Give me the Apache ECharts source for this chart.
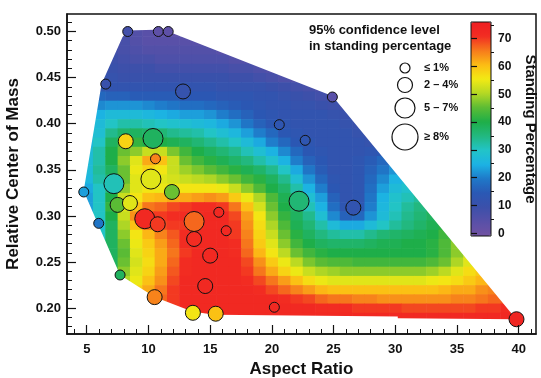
<!DOCTYPE html>
<html>
<head>
<meta charset="utf-8">
<script src="https://cdn.jsdelivr.net/npm/echarts@6/dist/echarts.min.js"></script>
<style>
  html, body { margin: 0; padding: 0; background: #fff; }
  #chart { width: 541px; height: 378px; }
</style>
</head>
<body>
<div id="chart"></div>
<script>
const FONT = '"Liberation Sans", Arial, Helvetica, sans-serif';

// measured specimens: aspect ratio, relative centre of mass, standing %, CI class
const pointX = [8.32, 10.8, 11.6, 6.54, 12.8, 24.9, 20.6, 22.7, 8.16, 10.37, 10.57, 10.2, 7.2, 11.9, 4.76, 7.5, 8.5,
  5.97, 9.7, 10.75, 13.7, 13.7, 15.7, 16.3, 15.0, 7.7, 14.6, 10.5, 13.6, 15.45, 20.2, 22.2, 26.6, 39.82];
const pointY = [0.50, 0.50, 0.50, 0.443, 0.435, 0.429, 0.399, 0.382, 0.381, 0.384, 0.362, 0.340, 0.335, 0.326, 0.326, 0.312, 0.314,
  0.292, 0.297, 0.291, 0.294, 0.275, 0.304, 0.284, 0.257, 0.236, 0.224, 0.212, 0.195, 0.194, 0.201, 0.316, 0.309, 0.188];
const pointValue = [8, 3, 3, 10, 11, 4, 13, 13, 58, 38, 65, 54, 31, 46, 23, 45, 54,
  19, 72, 70, 67, 71, 72, 72, 72, 38, 72, 65, 56, 60, 72, 36, 12, 73];
const pointCI = [0, 0, 0, 0, 1, 0, 0, 0, 1, 2, 0, 2, 2, 1, 0, 1, 1,
  0, 2, 1, 2, 1, 0, 0, 1, 0, 1, 1, 1, 1, 0, 2, 1, 1];

const ciLabels = ['\u2264 1%', '2 \u2013 4%', '5 \u2013 7%', '\u2265 8%'];
const ciSizes = [10, 15, 20, 26];

const xTicks = [5, 10, 15, 20, 25, 30, 35, 40];
const yTicks = [0.20, 0.25, 0.30, 0.35, 0.40, 0.45, 0.50];
const barTicks = [0, 10, 20, 30, 40, 50, 60, 70];

// interpolated surface: one row per y, cells 1 wide from gridRowStart
const gridRowY = [0.50, 0.49, 0.48, 0.47, 0.46, 0.45, 0.44, 0.43, 0.42, 0.41, 0.40, 0.39, 0.38, 0.37, 0.36, 0.35,
  0.34, 0.33, 0.32, 0.31, 0.30, 0.29, 0.28, 0.27, 0.26, 0.25, 0.24, 0.23, 0.22, 0.21, 0.20, 0.19];
const gridRowStart = [8, 7, 7, 7, 7, 6, 6, 6, 6, 6, 6, 5, 5, 5, 5, 5,
  5, 5, 5, 5, 5, 6, 6, 6, 7, 7, 7, 8, 9, 10, 12, 14];
const gridRows = [
  [7, 5, 4, 3, 3],
  [8, 7, 5, 4, 4, 4, 4, 4],
  [8, 7, 6, 5, 5, 5, 5, 5, 5, 4],
  [9, 8, 7, 7, 6, 6, 6, 6, 6, 6, 5, 5],
  [10, 9, 9, 9, 8, 8, 8, 8, 8, 8, 7, 7, 6, 5],
  [11, 11, 10, 10, 10, 10, 10, 10, 10, 10, 10, 9, 9, 8, 7, 6, 5],
  [13, 12, 12, 12, 12, 12, 12, 12, 12, 12, 11, 11, 11, 11, 10, 9, 8, 7, 6],
  [17, 16, 16, 15, 15, 15, 15, 14, 14, 14, 13, 13, 13, 12, 12, 11, 10, 9, 8, 6],
  [21, 22, 22, 22, 21, 20, 19, 18, 18, 17, 16, 15, 14, 13, 12, 12, 11, 11, 10, 9, 8],
  [25, 27, 27, 27, 26, 25, 24, 23, 23, 22, 20, 18, 16, 14, 13, 12, 12, 12, 12, 11, 10],
  [27, 30, 32, 32, 31, 30, 29, 28, 27, 26, 24, 22, 19, 16, 14, 13, 12, 12, 12, 12, 11, 10],
  [25, 28, 34, 37, 38, 37, 36, 34, 33, 32, 30, 28, 26, 23, 20, 17, 14, 13, 12, 12, 12, 12, 11, 10],
  [26, 30, 38, 44, 42, 40, 40, 39, 38, 36, 34, 32, 30, 27, 24, 20, 17, 14, 13, 12, 12, 12, 12, 11],
  [27, 32, 40, 46, 48, 52, 52, 47, 43, 40, 38, 36, 34, 31, 28, 25, 21, 17, 14, 13, 12, 12, 12, 13, 14],
  [27, 32, 40, 48, 54, 62, 60, 52, 46, 43, 41, 39, 37, 35, 32, 29, 25, 20, 16, 14, 12, 12, 13, 15, 17, 19],
  [27, 33, 38, 46, 55, 58, 56, 52, 49, 47, 45, 43, 41, 39, 37, 34, 30, 24, 19, 15, 12, 12, 13, 16, 19, 22],
  [26, 32, 36, 46, 54, 55, 54, 53, 52, 51, 50, 48, 46, 43, 41, 38, 34, 28, 22, 17, 13, 12, 13, 17, 21, 25, 27],
  [24, 30, 36, 48, 54, 56, 55, 55, 56, 56, 56, 55, 52, 48, 44, 40, 37, 32, 25, 20, 14, 12, 13, 18, 23, 27, 29],
  [23, 30, 40, 52, 56, 60, 61, 62, 62, 63, 64, 63, 59, 55, 50, 44, 39, 35, 28, 23, 16, 12, 13, 19, 25, 29, 31, 33],
  [23, 30, 42, 54, 60, 66, 67, 69, 70, 71, 71, 70, 66, 60, 53, 46, 40, 37, 31, 25, 18, 13, 14, 20, 26, 30, 33, 35, 36],
  [23, 30, 40, 52, 64, 70, 70, 71, 71, 71, 72, 72, 69, 63, 56, 48, 42, 38, 34, 28, 21, 16, 17, 22, 27, 31, 34, 36, 38],
  [28, 38, 50, 60, 67, 69, 70, 70, 71, 72, 72, 70, 64, 57, 50, 44, 39, 36, 32, 27, 24, 24, 27, 30, 33, 35, 37, 39, 41],
  [30, 38, 48, 56, 61, 65, 68, 71, 72, 72, 72, 70, 65, 58, 52, 46, 41, 38, 35, 33, 32, 32, 34, 36, 37, 38, 39, 40, 43, 46],
  [32, 38, 46, 55, 59, 63, 67, 71, 72, 72, 72, 71, 66, 59, 54, 48, 43, 40, 38, 37, 37, 37, 38, 39, 39, 40, 40, 41, 44, 48],
  [38, 45, 54, 58, 62, 66, 70, 72, 72, 72, 71, 67, 61, 56, 51, 46, 43, 41, 40, 40, 40, 40, 40, 40, 40, 40, 41, 44, 48, 52],
  [38, 46, 53, 57, 62, 67, 71, 72, 72, 72, 72, 69, 64, 59, 55, 51, 47, 45, 44, 44, 43, 43, 43, 43, 43, 43, 44, 46, 50, 54],
  [39, 48, 54, 58, 63, 68, 71, 72, 72, 72, 72, 70, 66, 62, 58, 55, 52, 50, 49, 48, 48, 48, 48, 48, 48, 48, 49, 51, 54, 57, 59],
  [50, 55, 60, 64, 69, 72, 72, 72, 72, 72, 71, 69, 66, 63, 60, 57, 55, 54, 54, 54, 54, 54, 54, 54, 54, 55, 56, 57, 59, 61, 62],
  [58, 62, 66, 70, 72, 72, 72, 72, 72, 72, 71, 69, 67, 65, 63, 61, 60, 60, 60, 60, 60, 60, 60, 60, 60, 61, 62, 62, 64, 65],
  [64, 67, 70, 72, 72, 72, 72, 72, 72, 72, 72, 71, 70, 69, 67, 66, 66, 65, 65, 64, 64, 64, 64, 64, 64, 65, 65, 66, 67, 68],
  [70, 72, 72, 72, 72, 72, 72, 72, 72, 72, 72, 72, 71, 71, 71, 70, 70, 70, 70, 69, 69, 69, 69, 69, 69, 70, 70, 71, 72],
  [68, 72, 72, 72, 72, 72, 72, 72, 72, 72, 72, 72, 72, 72, 72, 72, 72, 72, 72, 72, 72, 72, 72, 72, 72, 72, 72]
];

// outline of the sampled region (data units)
const hull = [[4.75, 0.327], [6.2, 0.443], [7.9, 0.494], [8.3, 0.501], [10.5, 0.502], [11.6, 0.500],
  [24.9, 0.430], [39.8, 0.188], [30.2, 0.189], [30.2, 0.191], [15.4, 0.193], [13.6, 0.196],
  [10.5, 0.212], [7.7, 0.236]];

const jet = ['#7252a2', '#5850a8', '#3c50aa', '#2a58b4', '#1f78c8', '#1cb2e4', '#22c4c8', '#22b880',
  '#1eae48', '#5cbc34', '#b4d824', '#f2ea14', '#fcbc14', '#f67a1c', '#f22c22', '#ee1e22'];

const cells = [];
gridRows.forEach((row, i) => {
  row.forEach((v, j) => cells.push([gridRowStart[i] + j, gridRowY[i], v]));
});
const points = pointX.map((x, i) => [x, pointY[i], pointValue[i], pointCI[i]]);

const minorX = [];
for (let v = 4; v <= 41; v++) minorX.push(v);
const minorY = [];
for (let v = 18; v <= 51; v++) minorY.push(v / 100);
const barMinor = [5, 15, 25, 35, 45, 55, 65, 75];

const ink = '#111';
const tickFont = { fontFamily: FONT, fontWeight: 'bold', fontSize: 13, color: ink };

const legendTop = [68, 85, 108, 137];
const legendGraphics = [
  { type: 'text', x: 309, y: 24, z: 20, style: { text: '95% confidence level', font: 'bold 13px ' + FONT, fill: ink } },
  { type: 'text', x: 309, y: 40, z: 20, style: { text: 'in standing percentage', font: 'bold 13px ' + FONT, fill: ink } }
];
ciLabels.forEach((t, i) => {
  legendGraphics.push({ type: 'circle', shape: { cx: 405, cy: legendTop[i], r: ciSizes[i] / 2 },
    style: { fill: '#fff', stroke: ink, lineWidth: 1.2 }, z: 20 });
  legendGraphics.push({ type: 'text', x: 424, y: legendTop[i],
    style: { text: t, font: 'bold 11px ' + FONT, fill: ink, textVerticalAlign: 'middle' }, z: 20 });
});

const option = {
  backgroundColor: '#fff',
  animation: false,
  grid: [
    { left: 67, top: 14, right: 5, bottom: 44, show: true, borderColor: ink, borderWidth: 1.5,
      backgroundColor: 'transparent', z: 10, outerBoundsMode: 'none' },
    { left: 471, top: 22, width: 20, height: 214, show: true, borderColor: ink, borderWidth: 1,
      backgroundColor: 'transparent', z: 12, outerBoundsMode: 'none' }
  ],
  xAxis: [
    {
      type: 'value', min: 3.4, max: 41.4, z: 10,
      name: 'Aspect Ratio', nameLocation: 'middle', nameGap: 27,
      nameTextStyle: { fontFamily: FONT, fontWeight: 'bold', fontSize: 17, color: ink },
      axisLine: { lineStyle: { color: ink, width: 1.5 } },
      axisTick: { inside: true, length: 9, customValues: xTicks, lineStyle: { color: ink, width: 1.2 } },
      axisLabel: Object.assign({ customValues: xTicks, margin: 9 }, tickFont),
      splitLine: { show: false }
    },
    {
      type: 'value', min: 3.4, max: 41.4, position: 'bottom', z: 10,
      axisLine: { show: false },
      axisTick: { inside: true, length: 5, customValues: minorX, lineStyle: { color: ink, width: 1 } },
      axisLabel: { show: false },
      splitLine: { show: false }
    },
    { type: 'value', gridIndex: 1, show: false, min: 0, max: 1 }
  ],
  yAxis: [
    {
      type: 'value', min: 0.172, max: 0.519, z: 10,
      name: 'Relative Center of Mass', nameLocation: 'middle', nameGap: 45,
      nameTextStyle: { fontFamily: FONT, fontWeight: 'bold', fontSize: 17, color: ink },
      axisLine: { show: true, lineStyle: { color: ink, width: 1.5 } },
      axisTick: { show: true, inside: true, length: 9, customValues: yTicks, lineStyle: { color: ink, width: 1.2 } },
      axisLabel: Object.assign({ customValues: yTicks, margin: 6, formatter: v => v.toFixed(2) }, tickFont),
      splitLine: { show: false }
    },
    {
      type: 'value', min: 0.172, max: 0.519, position: 'left', z: 10,
      axisLine: { show: false },
      axisTick: { show: true, inside: true, length: 5, customValues: minorY, lineStyle: { color: ink, width: 1 } },
      axisLabel: { show: false },
      splitLine: { show: false }
    },
    {
      type: 'value', gridIndex: 1, min: -1, max: 76, position: 'right', z: 12,
      name: 'Standing Percentage', nameLocation: 'middle', nameRotate: -90, nameGap: 32,
      nameTextStyle: { fontFamily: FONT, fontWeight: 'bold', fontSize: 15, color: ink },
      axisLine: { show: false },
      axisTick: { show: true, length: 6, customValues: barTicks, lineStyle: { color: ink, width: 1.2 } },
      axisLabel: { customValues: barTicks, margin: 7, fontFamily: FONT, fontWeight: 'bold', fontSize: 12, color: ink },
      splitLine: { show: false }
    },
    {
      type: 'value', gridIndex: 1, min: -1, max: 76, position: 'right', z: 12,
      axisLine: { show: false },
      axisTick: { show: true, length: 3, customValues: barMinor, lineStyle: { color: ink, width: 1 } },
      axisLabel: { show: false },
      splitLine: { show: false }
    }
  ],
  visualMap: {
    type: 'continuous', min: -1, max: 76, dimension: 2, seriesIndex: [0, 2],
    calculable: false, show: true, left: 471, top: 22, itemWidth: 20, itemHeight: 214,
    padding: 0, text: null, z: 11, hoverLink: false,
    inRange: { color: jet }
  },
  graphic: legendGraphics,
  series: [
    {
      type: 'custom', z: 2, silent: true,
      encode: { x: 0, y: 1 },
      data: cells,
      renderItem(params, api) {
        const x = api.value(0), y = api.value(1);
        const a = api.coord([x - 0.5, y + 0.005]);
        const b = api.coord([x + 0.5, y - 0.005]);
        return {
          type: 'rect',
          shape: { x: a[0], y: a[1], width: b[0] - a[0] + 0.6, height: b[1] - a[1] + 0.6 },
          style: { fill: api.visual('color') }
        };
      }
    },
    {
      type: 'custom', z: 3, silent: true,
      encode: { x: 0, y: 1 },
      data: [[20, 0.3]],
      renderItem(params, api) {
        const cs = params.coordSys;
        const outer = [[cs.x, cs.y], [cs.x + cs.width, cs.y], [cs.x + cs.width, cs.y + cs.height],
          [cs.x, cs.y + cs.height], [cs.x, cs.y]];
        const inner = hull.slice().reverse().map(p => api.coord(p));
        return {
          type: 'polygon',
          shape: { points: outer.concat(inner, [inner[0]]) },
          style: { fill: '#fff' }
        };
      }
    },
    {
      type: 'scatter', z: 5,
      data: points,
      symbolSize: v => ciSizes[v[3]],
      itemStyle: { borderColor: ink, borderWidth: 1, opacity: 1 }
    }
  ]
};

const chart = echarts.init(document.getElementById('chart'));
chart.setOption(option);
</script>
</body>
</html>
